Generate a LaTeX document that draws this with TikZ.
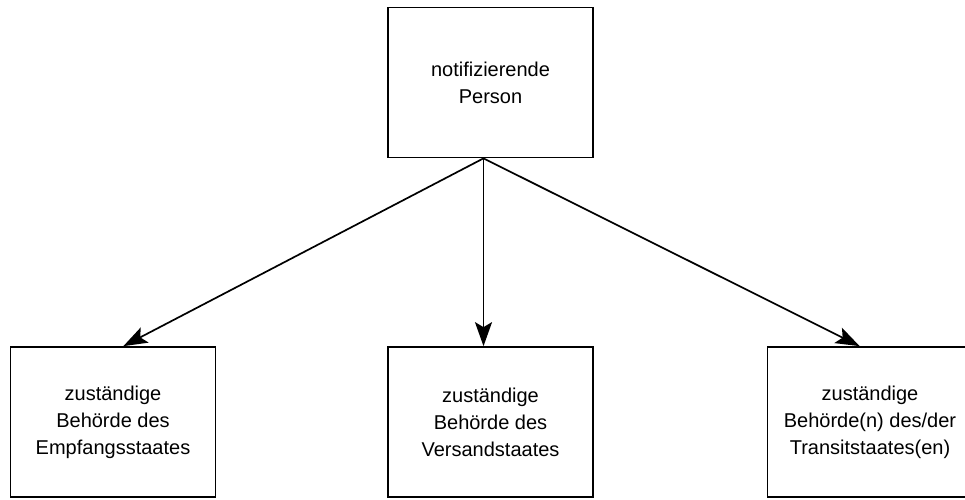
\documentclass[tikz,border=0pt]{standalone}
\usepackage{fontspec}
\setmainfont{Liberation Sans}
\usetikzlibrary{arrows.meta,calc}

\begin{document}
\begin{tikzpicture}[x=1pt, y=-1pt, line width=1.7pt,
    authority/.style={draw, align=center, minimum width=205pt, minimum height=150pt, inner sep=0pt, font=\fontsize{20}{27}\selectfont},
    notify arrow/.style={-{Stealth[length=24pt, width=17pt, inset=5pt]}}
  ]
  \useasboundingbox (0,0) rectangle (965,499);
  \clip (0,0) rectangle (965,499);
  \def\toprow{82.5}
  \def\botrow{422}

  \node [authority] (person) at (490.5,\toprow) {notifizierende\\Person};
  \node [authority] (empf) at (113,\botrow) {zuständige\\Behörde des\\Empfangsstaates};
  \node [authority] (vers) at (490.5,\botrow) {zuständige\\Behörde des\\Versandstaates};
  \node [authority] (trans) at (870,\botrow) {zuständige\\Behörde(n) des/der\\Transitstaates(en)};

  \coordinate (src) at ($(person.south)+(-7,0)$);
  \draw [notify arrow] (src) -- ($(empf.north west)!0.55!(empf.north east)$);
  \draw [notify arrow] (src) -- (src |- vers.north);
  \draw [notify arrow] (src) -- ($(trans.north west)!0.45!(trans.north east)$);
\end{tikzpicture}
\end{document}
